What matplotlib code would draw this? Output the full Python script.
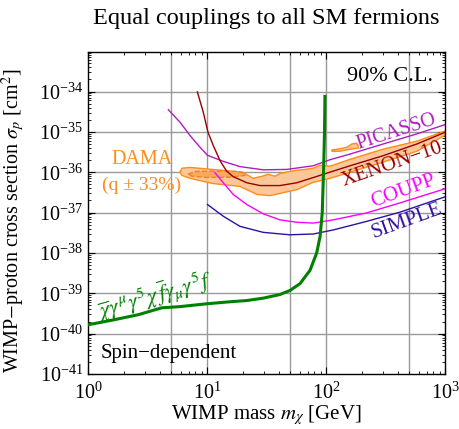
import numpy as np
import matplotlib
matplotlib.use("Agg")
import matplotlib.pyplot as plt
from matplotlib.ticker import LogLocator, NullFormatter

plt.rcParams['font.family'] = ['Liberation Serif', 'DejaVu Serif']
plt.rcParams['mathtext.fontset'] = 'stix'

# masses in GeV, cross sections as log10(sigma / cm^2)
green_m = [1.0, 1.63, 2.65, 4.16, 5.93, 9.94, 15.6, 21.5, 29.7, 41.0, 49.8, 60.5, 73.4, 83.5, 89.2, 93, 95.3, 97.2, 98]
green_ls = [-39.78, -39.66, -39.53, -39.36, -39.33, -39.26, -39.21, -39.18, -39.12, -39.03, -38.93, -38.76, -38.43,
            -38.0, -37.59, -37.0, -36.0, -35.0, -34.12]

picasso_m = [4.73, 5.93, 7.2, 8.73, 10.1, 13.7, 18.9, 29.7, 46.8, 78, 108, 159, 302, 580, 1000]
picasso_ls = [-34.45, -34.76, -35.09, -35.38, -35.58, -35.73, -35.86, -35.94, -35.93, -35.84, -35.69, -35.55,
              -35.3, -35.05, -34.82]

xenon_m = [8.3, 9.3, 10.2, 11.3, 12.9, 14.6, 16.6, 21.6, 27.9, 41, 56.9, 78.5, 95, 159, 302, 580, 1000]
xenon_ls = [-34.01, -34.51, -35.01, -35.34, -35.72, -35.97, -36.11, -36.26, -36.33, -36.33, -36.26, -36.13,
            -36.05, -35.84, -35.59, -35.3, -35.01]

coupp_m = [11.65, 13.7, 16.6, 21.6, 29.7, 41, 56.9, 78.5, 115, 218, 418, 1000]
coupp_ls = [-36.01, -36.26, -36.55, -36.8, -37.03, -37.18, -37.24, -37.26, -37.18, -37.01, -36.76, -36.41]

simple_m = [10.1, 13.7, 18.9, 29.7, 49.6, 78.5, 115, 218, 418, 1000]
simple_ls = [-36.8, -37.09, -37.34, -37.49, -37.55, -37.53, -37.43, -37.22, -36.99, -36.61]

dama_m = [6.17, 7.2, 20, 24.4, 29, 32.6, 37.3, 41, 49.8, 57, 66.6, 78, 89, 108, 159, 300, 580, 1000,
          1000, 580, 300, 159, 108, 78, 57, 33.8, 26.3, 18.9, 11.2, 7.2, 6.17, 5.9]
dama_ls = [-35.9, -35.88, -36.0, -36.15, -36.1, -36.05, -36.1, -36.03, -35.98, -35.95, -35.93, -35.9, -35.83,
           -35.85, -35.68, -35.43, -35.23, -34.98,
           -35.08, -35.48, -35.75, -36.0, -36.15, -36.25, -36.43, -36.58, -36.55, -36.35, -36.28, -36.15, -36.08, -36.0]

dama_in_m = [6.9, 8, 12, 18, 20.8, 20.8, 16, 10, 7.5]
dama_in_ls = [-36.05, -35.98, -35.97, -35.98, -36.03, -36.08, -36.12, -36.13, -36.1]

dama_isl_m = [112, 130, 150, 165, 180, 186, 186, 160, 130, 112]
dama_isl_ls = [-35.45, -35.42, -35.38, -35.3, -35.28, -35.33, -35.4, -35.43, -35.48, -35.48]

grid_x = [5, 10, 50, 100, 500]
grid_y = [-34, -35, -36, -37, -38, -39, -40]

fig = plt.figure(figsize=(4.59, 4.29), dpi=100)
ax = fig.add_axes((88/459, 1-374/429, 357/459, 322/429))
ax.set_xscale('log')
ax.set_yscale('log')
ax.set_xlim(1, 1000)
ax.set_ylim(1e-41, 10**-33.02)

for g in grid_x:
    ax.axvline(g, color='#9a9a9a', lw=1, zorder=0)
for g in grid_y:
    ax.axhline(10.0**g, color='#9a9a9a', lw=1, zorder=0)

def sig(ls):
    return [10.0**v for v in ls]

ax.fill(dama_m, sig(dama_ls), facecolor='#fcc89a', edgecolor='#ff8c1a', lw=1, zorder=2)
ax.fill(dama_isl_m, sig(dama_isl_ls), facecolor='#fcc89a', edgecolor='#ff8c1a', lw=1, zorder=2)
ax.fill(dama_in_m, sig(dama_in_ls), facecolor='#f8a860', edgecolor='#f08020', lw=1, ls='--', zorder=2)

ax.plot(picasso_m, sig(picasso_ls), color='#b01cc0', lw=1, zorder=3)
ax.plot(xenon_m, sig(xenon_ls), color='#990000', lw=1, zorder=3)
ax.plot(coupp_m, sig(coupp_ls), color='#ff00ff', lw=1, zorder=3)
ax.plot(simple_m, sig(simple_ls), color='#3010a0', lw=1, zorder=3)
ax.plot(green_m, sig(green_ls), color='#008000', lw=2.2, zorder=4)

ax.text(0.863, 0.752, 'PICASSO', transform=ax.transAxes, color='#b01cc0', fontsize=14.5,
        rotation=18, ha='center', va='center')
ax.text(0.852, 0.649, 'XENON\u221210', transform=ax.transAxes, color='#990000', fontsize=15,
        rotation=19, ha='center', va='center')
ax.text(0.882, 0.568, 'COUPP', transform=ax.transAxes, color='#ff00ff', fontsize=15,
        rotation=20, ha='center', va='center')
ax.text(0.894, 0.475, 'SIMPLE', transform=ax.transAxes, color='#3010a0', fontsize=15,
        rotation=20, ha='center', va='center')
ax.text(0.185, 0.245, r'$\overline{\chi}\gamma^{\mu}\gamma^{5}\chi\,\overline{f}\gamma_{\mu}\gamma^{5}f$',
        transform=ax.transAxes, color='#008000', fontsize=16, rotation=16, ha='center', va='center')
ax.text(0.151, 0.665, 'DAMA', transform=ax.transAxes, color='#ff8c1a', fontsize=14.5, ha='center', va='center')
ax.text(0.151, 0.587, '(q \u00b1 33%)', transform=ax.transAxes, color='#ff8c1a', fontsize=14, ha='center', va='center')
ax.text(0.966, 0.925, '90% C.L.', transform=ax.transAxes, fontsize=16, ha='right', va='center')
ax.text(0.034, 0.065, 'Spin\u2212dependent', transform=ax.transAxes, fontsize=15, ha='left', va='center')

ax.set_title('Equal couplings to all SM fermions', fontsize=17.5, pad=20)
ax.set_xlabel(r'WIMP mass $m_\chi$ [GeV]', fontsize=15, labelpad=0)
ax.set_ylabel(r'WIMP$-$proton cross section $\sigma_p$ [cm$^2$]', fontsize=14.5)
ax.yaxis.set_label_coords(-0.17, 0.475)

ax.yaxis.set_major_locator(LogLocator(base=10, numticks=20))
ax.yaxis.set_minor_locator(LogLocator(base=10, subs=np.arange(2, 10), numticks=20))
ax.yaxis.set_minor_formatter(NullFormatter())
ax.xaxis.set_minor_locator(LogLocator(base=10, subs=np.arange(2, 10), numticks=20))
ax.xaxis.set_minor_formatter(NullFormatter())
ax.tick_params(which='both', direction='in', top=True, right=True, labelsize=14.5)
ax.tick_params(axis='x', which='major', pad=6)
ax.tick_params(which='major', length=5, width=0.8)
ax.tick_params(which='minor', length=2.5, width=0.6)
for s in ax.spines.values():
    s.set_linewidth(1.0)

fig.savefig('out.png', dpi=100)
